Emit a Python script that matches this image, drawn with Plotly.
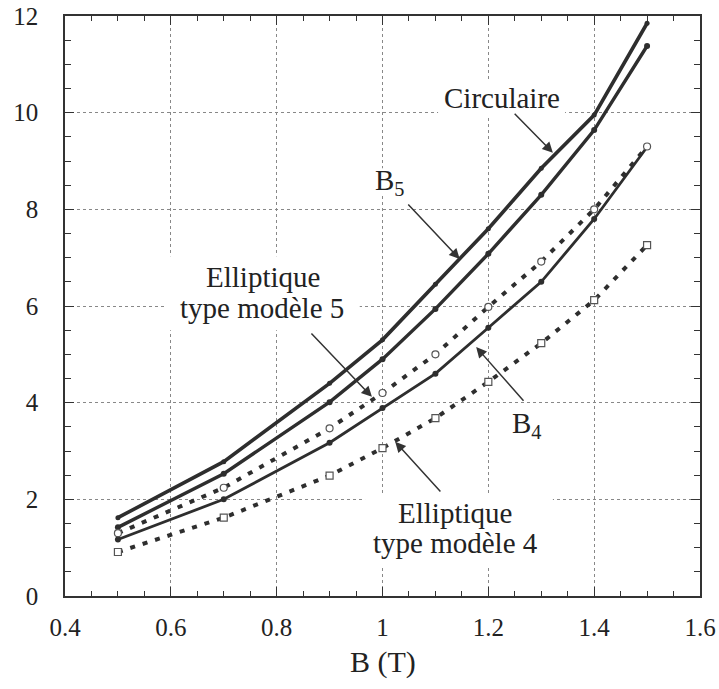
import plotly.graph_objects as go

# ---- data ----
B = [0.5, 0.7, 0.9, 1.0, 1.1, 1.2, 1.3, 1.4, 1.5]
circulaire = [1.62, 2.78, 4.40, 5.30, 6.45, 7.60, 8.85, 9.95, 11.85]
b5 = [1.42, 2.53, 4.01, 4.90, 5.94, 7.08, 8.30, 9.64, 11.38]
b4 = [1.17, 2.00, 3.17, 3.89, 4.60, 5.55, 6.50, 7.80, 9.29]
ellip5 = [1.30, 2.24, 3.47, 4.20, 5.00, 5.98, 6.92, 8.00, 9.30]
ellip4 = [0.91, 1.62, 2.49, 3.06, 3.68, 4.43, 5.23, 6.12, 7.26]

x_ticks = [0.4, 0.6, 0.8, 1.0, 1.2, 1.4, 1.6]
x_ticktext = ["0.4", "0.6", "0.8", "1", "1.2", "1.4", "1.6"]
y_ticks = [0, 2, 4, 6, 8, 10, 12]

LINE = "#2e2e2e"
FONT = "Liberation Serif"

fig = go.Figure()
fig.add_trace(go.Scatter(x=B, y=circulaire, mode="lines+markers", name="Circulaire",
                         line=dict(color=LINE, width=3.6),
                         marker=dict(size=5, color=LINE)))
fig.add_trace(go.Scatter(x=B, y=b5, mode="lines+markers", name="B5",
                         line=dict(color=LINE, width=3.4),
                         marker=dict(size=6, color=LINE)))
fig.add_trace(go.Scatter(x=B, y=b4, mode="lines+markers", name="B4",
                         line=dict(color=LINE, width=2.8),
                         marker=dict(size=6, color=LINE)))
fig.add_trace(go.Scatter(x=B, y=ellip5, mode="lines+markers", name="Elliptique 5",
                         line=dict(color=LINE, width=4, dash="5px,8px"),
                         marker=dict(symbol="circle", size=7, color="white",
                                     line=dict(color="#555", width=1.2))))
fig.add_trace(go.Scatter(x=B, y=ellip4, mode="lines+markers", name="Elliptique 4",
                         line=dict(color=LINE, width=4, dash="5px,8px"),
                         marker=dict(symbol="square", size=7, color="white",
                                     line=dict(color="#555", width=1.2))))

# white boxes that interrupt the grid behind the labels
boxes = [
    (0.589, 0.957, 5.50, 7.03),
    (0.967, 1.322, 0.64, 2.07),
    (1.105, 1.345, 9.95, 10.65),
    (0.98, 1.05, 8.30, 8.85),
    (1.24, 1.31, 3.25, 3.85),
]
for x0, x1, y0, y1 in boxes:
    fig.add_shape(type="rect", x0=x0, x1=x1, y0=y0, y1=y1, xref="x", yref="y",
                  fillcolor="white", line=dict(width=0), layer="between")

labels = [
    ("Circulaire", 1.226, 10.30),
    ("B<sub>5</sub>", 1.014, 8.57),
    ("Elliptique", 0.774, 6.60),
    ("type modèle 5", 0.772, 5.96),
    ("B<sub>4</sub>", 1.273, 3.54),
    ("Elliptique", 1.137, 1.72),
    ("type modèle 4", 1.137, 1.10),
]
for t, x, y in labels:
    fig.add_annotation(text=t, x=x, y=y, xref="x", yref="y", showarrow=False,
                       font=dict(family=FONT, size=29, color="#222"))

arrows = [  # head x, head y, tail x, tail y
    (1.322, 9.17, 1.247, 10.01),
    (1.146, 6.97, 1.046, 8.13),
    (0.980, 4.12, 0.863, 5.46),
    (1.177, 5.15, 1.269, 4.01),
    (1.024, 3.19, 1.112, 2.13),
]
for hx, hy, tx, ty in arrows:
    fig.add_annotation(text="", x=hx, y=hy, ax=tx, ay=ty, xref="x", yref="y",
                       axref="x", ayref="y", showarrow=True, arrowhead=2,
                       arrowsize=1.4, arrowwidth=1.5, arrowcolor="#333", standoff=0)

fig.add_annotation(text="B (T)", xref="paper", yref="paper", x=0.5, y=0,
                   yanchor="middle", yshift=-66, showarrow=False,
                   font=dict(family=FONT, size=30, color="#222"))

axis_common = dict(showline=True, linecolor="#333", linewidth=1.5, mirror="allticks",
                   ticks="inside", ticklen=9, tickwidth=1.2, tickcolor="#333",
                   showgrid=True, gridcolor="#888", griddash="dot", gridwidth=1,
                   zeroline=False, automargin=False, ticklabeloverflow="allow",
                   tickfont=dict(family=FONT, size=25, color="#222"))

fig.update_xaxes(range=[0.4, 1.6], tickvals=x_ticks, ticktext=x_ticktext,
                 ticklabelstandoff=8,
                 minor=dict(dtick=0.05, ticks="inside", ticklen=5, tickcolor="#333",
                            showgrid=False), **axis_common)
fig.update_yaxes(range=[0, 12], tickvals=y_ticks, ticklabelstandoff=20,
                 minor=dict(dtick=0.5, ticks="inside", ticklen=6, tickcolor="#333",
                            showgrid=False), **axis_common)

fig.update_layout(width=719, height=689, showlegend=False,
                  margin=dict(l=65, r=19, t=16, b=93),
                  plot_bgcolor="white", paper_bgcolor="white")

# remove the default page margin so the figure fills the window exactly
fig.write_html("out.html",
               config={"displayModeBar": False},
               post_script="document.body.style.margin='0';"
                           "document.body.style.overflow='hidden';")
